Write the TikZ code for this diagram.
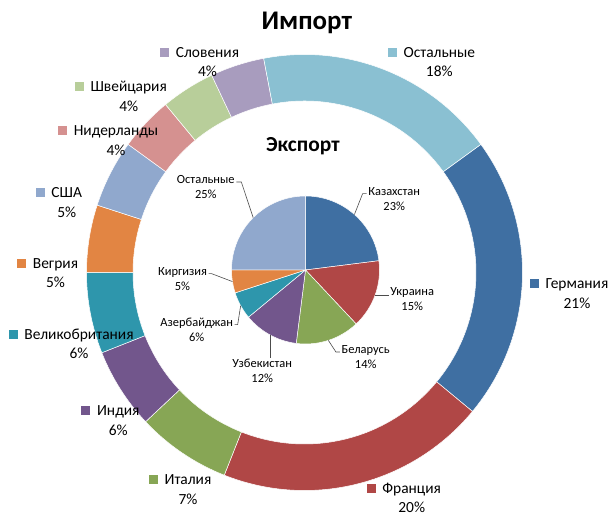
\documentclass[tikz,border=0pt]{standalone}
\usepackage{fontspec}
\setmainfont{Carlito}
\usetikzlibrary{positioning}
\definecolor{cBlue}{HTML}{3F6FA2}
\definecolor{cRed}{HTML}{B04746}
\definecolor{cGreen}{HTML}{87A655}
\definecolor{cPurple}{HTML}{72568C}
\definecolor{cTeal}{HTML}{2E96AC}
\definecolor{cOrange}{HTML}{E28543}
\definecolor{cSteel}{HTML}{90A8CD}
\definecolor{cPink}{HTML}{D59190}
\definecolor{cLime}{HTML}{B8CE9A}
\definecolor{cLilac}{HTML}{A89CBE}
\definecolor{cSky}{HTML}{8AC0D2}
\tikzset{
  seg/.style={draw=white, line width=0.5bp},
  lab/.style={font=\fontsize{15.5}{18}\selectfont, inner sep=0pt, text height=10bp, text depth=0pt},
  plab/.style={font=\fontsize{12.5}{15}\selectfont, inner sep=0pt, text height=8bp, text depth=0pt},
  key/.style={inner sep=0pt, minimum size=9bp},
  lead/.style={draw=black!70, line width=0.6bp}
}
\begin{document}
\begin{tikzpicture}[x=1bp, y=1bp]
\useasboundingbox (0,0) rectangle (608,523);

\node[font=\bfseries\fontsize{27}{30}\selectfont, inner sep=0pt, text height=17.5bp, text depth=0pt] (tImp) at (306.8,501.8) {Импорт};
\node[font=\bfseries\fontsize{21.5}{24}\selectfont, inner sep=0pt, text height=13bp, text depth=0pt] (tExp) at (302.8,377.5) {Экспорт};

\begin{scope}[shift={(304.5,250.5)}]
\foreach \a/\b/\c in {36/-39.6/cBlue, -39.6/-111.6/cRed, -111.6/-136.8/cGreen, -136.8/-158.4/cPurple, -158.4/-180/cTeal, 180/162/cOrange, 162/144/cSteel, 144/129.6/cPink, 129.6/115.2/cLime, 115.2/100.8/cLilac, 100.8/36/cSky}
   \filldraw[seg, fill=\c] (\a:218) arc[start angle=\a, end angle=\b, radius=218] -- (\b:171.5) arc[start angle=\b, end angle=\a, radius=171.5] -- cycle;
\end{scope}

\begin{scope}[shift={(305.5,253)}]
\foreach \a/\b/\c in {90/7.2/cBlue, 7.2/-46.8/cRed, -46.8/-97.2/cGreen, -97.2/-140.4/cPurple, -140.4/-162/cTeal, -162/-180/cOrange, 180/90/cSteel}
   \filldraw[seg, fill=\c] (0,0) -- (\a:74) arc[start angle=\a, end angle=\b, radius=74] -- cycle;
\foreach \m/\a in {Kaz/48.6, Ukr/-19.8, Bel/-72, Uzb/-118.8, Aze/-151.2, Kir/-171, Oth/135}
   \coordinate (m\m) at (\a:74);
\end{scope}

\foreach \n/\t/\p/\c/\x/\y in {Ger/Германия/21/cBlue/577/239, Fra/Франция/20/cRed/411.7/34.7, Ita/Италия/7/cGreen/188/43, Ind/Индия/6/cPurple/118.3/112.3, Gbr/Великобритания/6/cTeal/79/188.7, Hun/Вегрия/5/cOrange/55.5/259.7, Usa/США/5/cSteel/66.7/330.3, Nld/Нидерланды/4/cPink/116/392, Swi/Швейцария/4/cLime/128.7/436.3, Slo/Словения/4/cLilac/207.5/470.7, Oth/Остальные/18/cSky/439.3/470.7}{
   \node[lab] (n\n) at (\x,\y) {\t};
   \node[key, fill=\c, left=6.5bp of n\n] (k\n) {};
   \node[lab] (p\n) at (\x,\y-19.5) {\p\%};
   }

\foreach \n/\t/\p/\x/\y in {Kaz/Казахстан/23/394.2/331.3, Ukr/Украина/15/412.2/231.3, Bel/Беларусь/14/365.7/173, Uzb/Узбекистан/12/262.2/159, Aze/Азербайджан/6/196.7/200.3, Kir/Киргизия/5/182.5/251.3, Oth/Остальные/25/205.8/343}{
   \node[plab] (e\n) at (\x,\y) {\t};
   \node[plab] (q\n) at (\x,\y-15) {\p\%};
   }

\draw[lead] ([shift={(-1.5,-2)}]eKaz.west) -- ++(-4,0) -- (mKaz);
\draw[lead] (mUkr) -- ([xshift=-1.5bp]mUkr -| eUkr.west);
\draw[lead] ([shift={(-1.5,-2)}]eBel.west) -- ++(-4,0) -- (mBel);
\draw[lead] (mUzb) -- ([yshift=1.5bp]mUzb |- eUzb.north);
\draw[lead] ([shift={(1.5,-2)}]eAze.east) -- ++(3,0) -- (mAze);
\draw[lead] ([shift={(1.5,-2)}]eKir.east) -- ++(3,0) -- (mKir);
\draw[lead] ([shift={(1.5,-2)}]eOth.east) -- ++(5,0) -- (mOth);
\end{tikzpicture}
\end{document}
